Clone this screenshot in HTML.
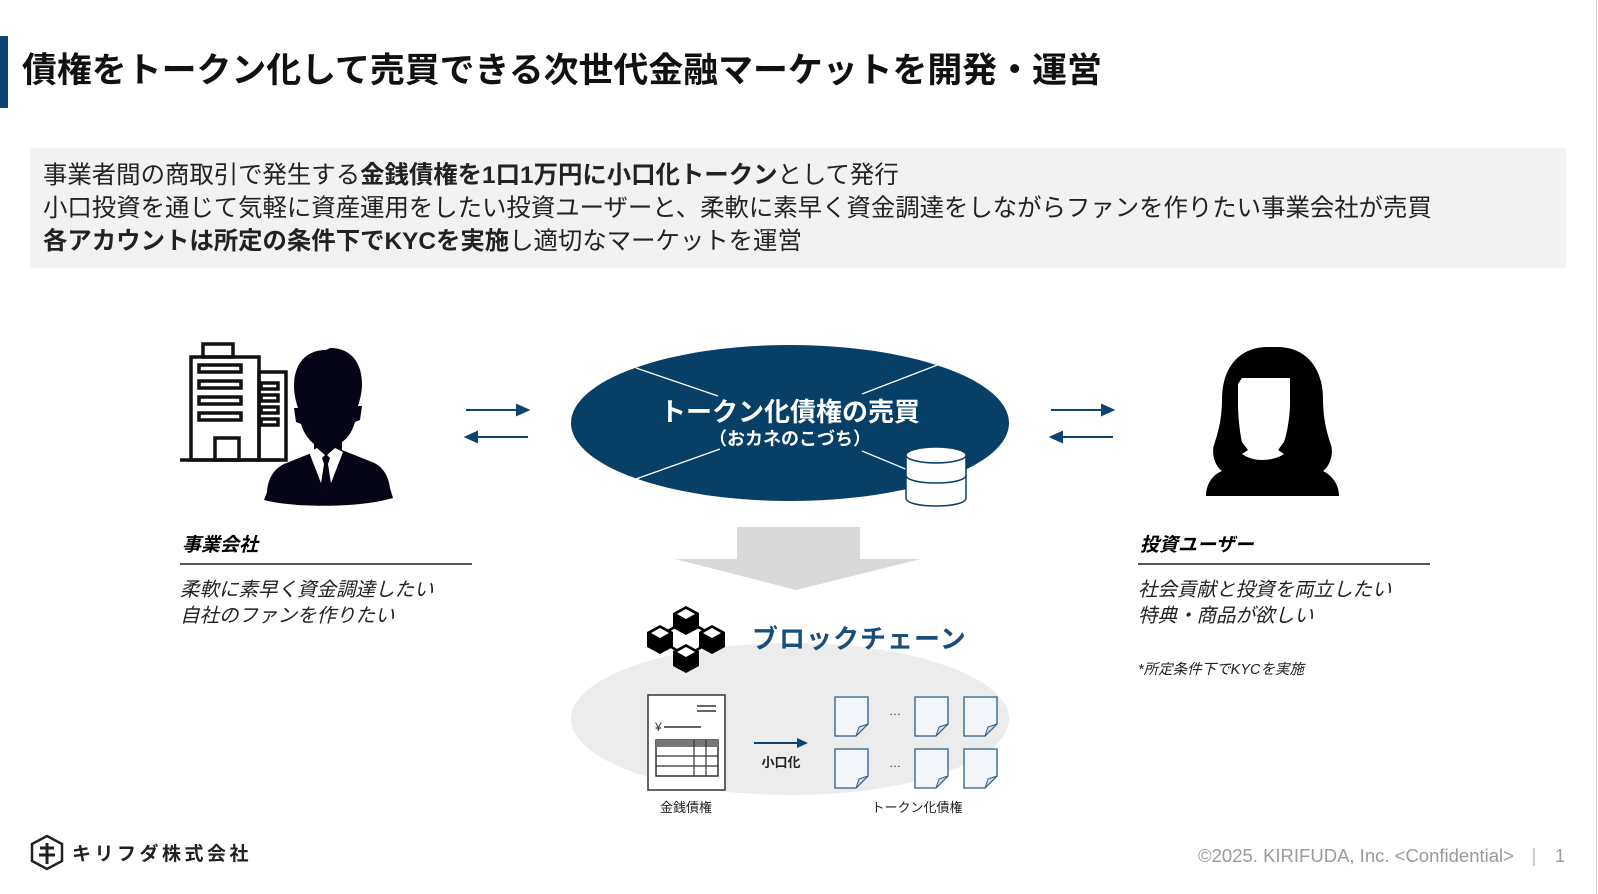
<!DOCTYPE html>
<html><head><meta charset="utf-8"><style>
html,body{margin:0;padding:0;background:#fff}
body{width:1598px;height:894px;position:relative;overflow:hidden;font-family:"Liberation Sans","Noto Sans CJK JP",sans-serif;color:#111}
.t{position:absolute;white-space:nowrap}
</style></head><body>
<div style="position:absolute;left:0;top:36px;width:8px;height:72px;background:#0b4470"></div>
<div class="t" style="left:22px;top:49px;font-size:34.9px;font-weight:bold;line-height:44px">債権をトークン化して売買できる次世代金融マーケットを開発・運営</div>
<div style="position:absolute;left:30px;top:148px;width:1536px;height:120px;background:#f2f2f2"></div>
<div class="t" style="left:43px;top:159px;font-size:24.4px;line-height:33px;color:#222">事業者間の商取引で発生する<b>金銭債権を1口1万円に小口化トークン</b>として発行<br>小口投資を通じて気軽に資産運用をしたい投資ユーザーと、柔軟に素早く資金調達をしながらファンを作りたい事業会社が売買<br><b>各アカウントは所定の条件下でKYCを実施</b>し適切なマーケットを運営</div>
<div style="position:absolute;left:1596px;top:0;width:1px;height:894px;background:#ccc"></div>

<svg width="1598" height="894" style="position:absolute;left:0;top:0" xmlns="http://www.w3.org/2000/svg">
<!-- building -->
<g fill="none" stroke="#111" stroke-width="3.5">
<rect x="203" y="344" width="30" height="13"/>
<rect x="191" y="357" width="68" height="103"/>
<rect x="199" y="365" width="42" height="7"/><rect x="199" y="381" width="42" height="7"/><rect x="199" y="397" width="42" height="7"/><rect x="199" y="413" width="42" height="7"/>
<rect x="259" y="372" width="27" height="88"/>
<rect x="261" y="383" width="17" height="6"/><rect x="261" y="395" width="17" height="6"/><rect x="261" y="407" width="17" height="6"/><rect x="261" y="419" width="17" height="6"/>
<rect x="215" y="438" width="24" height="22"/>
<line x1="180" y1="460" x2="280" y2="460"/>
</g>
<!-- man -->
<path d="M326 350c-22 0-32 16-32 36 0 8 2 16 4 22l-4 0 2 14 5 2c3 10 8 16 13 20l0 8-30 12c-10 5-16 14-17 28l-3 8c30 8 95 8 129-2l-3-10c-2-14-8-22-18-26l-30-12 0-8c6-4 10-10 13-20l5-2 2-14-4 0c2-6 4-14 4-22 0-20-10-36-32-36z" fill="#050516"/>
<path d="M309 452l17 44 17-44-8-4-9 8-9-8z" fill="#fff"/>
<path d="M322 458l4-4 4 4-2 6 4 26-6 6-6-6 4-26z" fill="#050516"/>
<!-- arrows -->
<g stroke="#0b4470" stroke-width="2" fill="#0b4470">
<line x1="466" y1="410" x2="518" y2="410"/><path d="M517 405l11 5-11 5z"/>
<line x1="476" y1="437" x2="528" y2="437"/><path d="M477 432l-11 5 11 5z"/>
<line x1="1051" y1="410" x2="1103" y2="410"/><path d="M1102 405l11 5-11 5z"/>
<line x1="1061" y1="437" x2="1113" y2="437"/><path d="M1062 432l-11 5 11 5z"/>
</g>
<!-- main ellipse -->
<ellipse cx="790" cy="423" rx="219" ry="78" fill="#073f66"/>
<g stroke="#fff" stroke-width="1.3">
<line x1="636" y1="368" x2="718" y2="396"/><line x1="940" y1="364" x2="862" y2="394"/>
<line x1="636" y1="479" x2="720" y2="449"/><line x1="862" y1="451" x2="920" y2="475"/>
</g>
<text x="790" y="421" text-anchor="middle" fill="#fff" font-size="26" font-weight="bold">トークン化債権の売買</text>
<text x="790" y="445" text-anchor="middle" fill="#fff" font-size="18" font-weight="bold">（おカネのこづち）</text>
<!-- db -->
<g stroke="#073f66" stroke-width="1.5" fill="#fff">
<path d="M906 455v43c0 5 13 8 30 8s30-3 30-8v-43z"/>
<ellipse cx="936" cy="455" rx="30" ry="8"/>
<path d="M906 475c0 5 13 8 30 8s30-3 30-8" fill="none"/>
</g>
<!-- big arrow -->
<rect x="737" y="527" width="123" height="33" fill="#d9d9d9"/>
<path d="M675 559h246l-125 31z" fill="#d9d9d9"/>
<!-- left labels -->
<text x="182" y="551" font-size="19" font-weight="bold" font-style="italic">事業会社</text>
<line x1="180" y1="564" x2="472" y2="564" stroke="#222" stroke-width="1.5"/>
<text x="180" y="596" font-size="19.5" font-style="italic" fill="#222">柔軟に素早く資金調達したい</text>
<text x="180" y="622" font-size="19.5" font-style="italic" fill="#222">自社のファンを作りたい</text>
<!-- woman -->
<path d="M1268 347c-30 0-46 22-46 52 0 20-4 34-8 46-3 10 2 22 8 26-10 4-16 14-16 25h133c0-11-6-20-16-25 6-4 11-16 8-26-4-12-8-26-8-46 0-30-16-52-46-52z" fill="#000"/>
<path d="M1246 378h44v26c0 12-3 30-6 38l-6 8 6 4c-6 4-14 6-22 6s-14-2-20-6l6-4-6-8c-2-8-4-26-4-38v-20l4-6z" fill="#fff"/>
<text x="1140" y="551" font-size="19" font-weight="bold" font-style="italic">投資ユーザー</text>
<line x1="1138" y1="564" x2="1430" y2="564" stroke="#222" stroke-width="1.5"/>
<text x="1138" y="596" font-size="19.5" font-style="italic" fill="#222">社会貢献と投資を両立したい</text>
<text x="1138" y="622" font-size="19.5" font-style="italic" fill="#222">特典・商品が欲しい</text>
<text x="1138" y="674" font-size="14.5" font-style="italic" fill="#222">*所定条件下でKYCを実施</text>
<!-- blockchain -->
<ellipse cx="790" cy="719" rx="219" ry="76" fill="#ececec"/>
<g stroke="#000" stroke-width="2.5" fill="#fff">
<line x1="686" y1="620" x2="660" y2="636"/><line x1="686" y1="620" x2="714" y2="636"/>
<line x1="660" y1="640" x2="686" y2="656"/><line x1="714" y1="640" x2="686" y2="656"/>
</g>
<g fill="#000">
<path d="M686 606l13 7v15l-13 7-13-7v-15z"/><path d="M660 625l13 7v15l-13 7-13-7v-15z"/><path d="M712 625l13 7v15l-13 7-13-7v-15z"/><path d="M686 644l13 7v15l-13 7-13-7v-15z"/>
</g>
<g fill="#fff"><path d="M686 609l9 5-9 5-9-5z"/><path d="M660 628l9 5-9 5-9-5z"/><path d="M712 628l9 5-9 5-9-5z"/><path d="M686 647l9 5-9 5-9-5z"/></g>
<text x="752" y="648" font-size="26" font-weight="bold" fill="#1a4e7a" letter-spacing="1">ブロックチェーン</text>
<!-- doc -->
<rect x="648" y="695" width="77" height="95" fill="#fff" stroke="#333" stroke-width="1.5"/>
<line x1="697" y1="706" x2="716" y2="706" stroke="#333" stroke-width="1.5"/><line x1="697" y1="711" x2="716" y2="711" stroke="#333" stroke-width="1.5"/>
<text x="655" y="731" font-size="12" fill="#333">¥</text><line x1="664" y1="727" x2="701" y2="727" stroke="#333" stroke-width="1.5"/>
<rect x="656" y="740" width="62" height="36" fill="#fff" stroke="#333" stroke-width="1.5"/>
<rect x="656" y="740" width="62" height="7" fill="#777"/>
<g stroke="#333" stroke-width="1.2"><line x1="656" y1="756" x2="718" y2="756"/><line x1="656" y1="766" x2="718" y2="766"/><line x1="694" y1="740" x2="694" y2="776"/><line x1="706" y1="740" x2="706" y2="776"/></g>
<text x="686" y="812" text-anchor="middle" font-size="13" fill="#222">金銭債権</text>
<line x1="754" y1="743" x2="798" y2="743" stroke="#0b4470" stroke-width="2"/><path d="M797 738l11 5-11 5z" fill="#0b4470"/>
<text x="781" y="767" text-anchor="middle" font-size="13" font-weight="bold" fill="#222">小口化</text>
<g fill="#f3f7fc" stroke="#2a5d8a" stroke-width="1.3">
<path d="M835 697h33v27l-12 12h-21z"/><path d="M915 697h33v27l-12 12h-21z"/><path d="M964 697h33v27l-12 12h-21z"/>
<path d="M835 749h33v27l-12 12h-21z"/><path d="M915 749h33v27l-12 12h-21z"/><path d="M964 749h33v27l-12 12h-21z"/>
</g>
<g fill="#d0dbe8" stroke="#2a5d8a" stroke-width="1"><path d="M856 736l3-9 9-3z"/><path d="M936 736l3-9 9-3z"/><path d="M985 736l3-9 9-3z"/><path d="M856 788l3-9 9-3z"/><path d="M936 788l3-9 9-3z"/><path d="M985 788l3-9 9-3z"/></g>
<text x="895" y="715" text-anchor="middle" font-size="12" fill="#333">…</text>
<text x="895" y="767" text-anchor="middle" font-size="12" fill="#333">…</text>
<text x="917" y="812" text-anchor="middle" font-size="13" fill="#222">トークン化債権</text>
<!-- logo -->
<path d="M47 836l15 8v17l-15 8-15-8v-17z" fill="none" stroke="#222" stroke-width="2.5"/>
<g stroke="#222" stroke-width="3"><line x1="40" y1="848" x2="54" y2="848"/><line x1="39" y1="855" x2="55" y2="855"/><line x1="47" y1="843" x2="47" y2="864"/></g>
<text x="72" y="860" font-size="19" font-weight="bold" fill="#222" letter-spacing="3.5">キリフダ株式会社</text>
<text x="1198" y="862" font-size="18.5" fill="#9a9a9a">©2025. KIRIFUDA, Inc. &lt;Confidential&gt;</text>
<line x1="1534" y1="848" x2="1534" y2="866" stroke="#9a9a9a" stroke-width="1"/>
<text x="1555" y="862" font-size="18" fill="#9a9a9a">1</text>
</svg>
</body></html>
